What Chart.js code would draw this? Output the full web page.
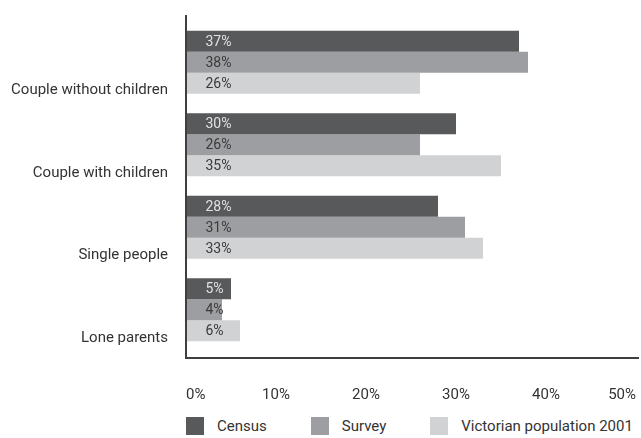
<!DOCTYPE html>
<html>
<head>
<meta charset="utf-8">
<script src="https://cdn.jsdelivr.net/npm/chart.js@4.4.1/dist/chart.umd.min.js"></script>
<style>
	html, body { margin: 0; padding: 0; background: #fff; }
	#wrap { position: relative; width: 641px; height: 438px; }
	#chart { position: absolute; left: 0; top: 0; }
	#legend {
		position: absolute; top: 417px; left: 186px; display: flex; white-space: nowrap;
		font: 15px "Roboto", sans-serif; color: #333;
	}
	#legend .item { display: flex; align-items: center; margin-right: 44px; }
	#legend .box { width: 18px; height: 18px; margin-right: 13px; }
</style>
</head>
<body>
<div id="wrap">
	<canvas id="chart" width="641" height="405"></canvas>
	<div id="legend"></div>
</div>
<script>
	// ── Data ────────────────────────────────────────────
	var categories = ['Couple without children', 'Couple with children', 'Single people', 'Lone parents'];
	var seriesNames = ['Census', 'Survey', 'Victorian population 2001'];
	var census = [37, 30, 28, 5];
	var survey = [38, 26, 31, 4];
	var victorian = [26, 35, 33, 6];
	var xTicks = [0, 10, 20, 30, 40, 50];

	var colors = ['#58595b', '#9d9ea1', '#d1d2d4'];
	var labelColors = ['#e2e2e2', '#3a3a3a', '#3a3a3a'];
	var fontFamily = '"Roboto", sans-serif';

	// ── Plugins: axis lines + value labels in bars ─────
	var axisLines = {
		id: 'axisLines',
		afterDatasetsDraw: function (chart) {
			var a = chart.chartArea;
			var ctx = chart.ctx;
			ctx.save();
			ctx.strokeStyle = '#3f3f3f';
			ctx.lineWidth = 2;
			ctx.beginPath();
			ctx.moveTo(a.left, a.top - 6);
			ctx.lineTo(a.left, a.bottom + 7);
			ctx.lineTo(a.right + 3, a.bottom + 7);
			ctx.stroke();
			ctx.restore();
		}
	};

	var barLabels = {
		id: 'barLabels',
		afterDatasetsDraw: function (chart) {
			var ctx = chart.ctx;
			ctx.save();
			ctx.font = '14px ' + fontFamily;
			ctx.textAlign = 'left';
			ctx.textBaseline = 'middle';
			chart.data.datasets.forEach(function (ds, di) {
				var meta = chart.getDatasetMeta(di);
				ctx.fillStyle = labelColors[di];
				meta.data.forEach(function (bar, i) {
					ctx.fillText(ds.data[i] + '%', bar.base + 19, bar.y + 1);
				});
			});
			ctx.restore();
		}
	};

	var seriesData = [census, survey, victorian];
	var hiddenGrid = { display: true, color: 'transparent', drawOnChartArea: false, drawTicks: true };

	var chart = new Chart(document.getElementById('chart'), {
		type: 'bar',
		data: {
			labels: categories,
			datasets: seriesNames.map(function (name, i) {
				return {
					label: name,
					data: seriesData[i],
					backgroundColor: colors[i],
					borderWidth: 0,
					categoryPercentage: 0.765,
					barPercentage: 1.0
				};
			})
		},
		options: {
			indexAxis: 'y',
			responsive: false,
			animation: false,
			layout: { padding: { top: 21, right: 5, left: 0, bottom: 0 } },
			plugins: {
				legend: { display: false },
				tooltip: { enabled: false }
			},
			scales: {
				x: {
					min: xTicks[0],
					max: xTicks[xTicks.length - 1],
					afterBuildTicks: function (s) {
						s.ticks = xTicks.map(function (v) { return { value: v }; });
					},
					afterFit: function (s) { s.height = 54; },
					grid: Object.assign({ tickLength: 35 }, hiddenGrid),
					border: { display: false },
					ticks: {
						align: 'inner',
						padding: 0,
						color: '#333',
						font: { family: fontFamily, size: 15 },
						callback: function (v) { return v + '%'; }
					}
				},
				y: {
					afterFit: function (s) { s.width = 186; },
					grid: Object.assign({ tickLength: 18 }, hiddenGrid),
					border: { display: false },
					ticks: {
						padding: 0,
						labelOffset: 28,
						color: '#333',
						font: { family: fontFamily, size: 15 }
					}
				}
			}
		},
		plugins: [axisLines, barLabels]
	});

	// ── HTML legend ─────────────────────────────────────
	var legend = document.getElementById('legend');
	legend.style.left = chart.chartArea.left + 'px';
	chart.data.datasets.forEach(function (ds) {
		var item = document.createElement('div');
		item.className = 'item';
		var box = document.createElement('span');
		box.className = 'box';
		box.style.background = ds.backgroundColor;
		var txt = document.createElement('span');
		txt.textContent = ds.label;
		item.appendChild(box);
		item.appendChild(txt);
		legend.appendChild(item);
	});
</script>
</body>
</html>
